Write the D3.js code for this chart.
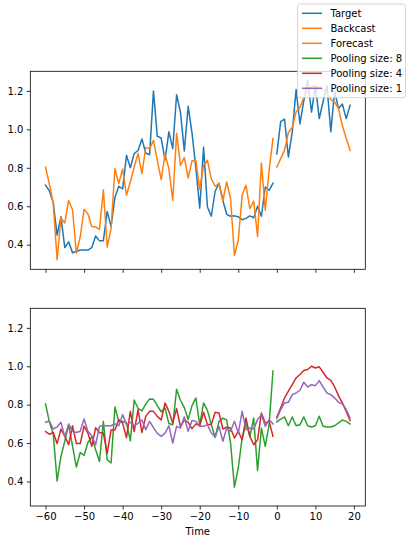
<!DOCTYPE html>
<html><head><meta charset="utf-8">
<script src="https://cdn.jsdelivr.net/npm/d3@7"></script>
<style>
html,body{margin:0;padding:0;background:#fff;}
svg{display:block;font-family:"DejaVu Sans",sans-serif;}
</style></head>
<body><svg id="c" width="410" height="544"></svg>
<script>
const backTime = d3.range(-60, 0);
const foreTime = d3.range(0, 20);
const xTicks = [-60, -50, -40, -30, -20, -10, 0, 10, 20];
const yTicks = [0.4, 0.6, 0.8, 1.0, 1.2];
const legendLabels = ["Target", "Backcast", "Forecast", "Pooling size: 8", "Pooling size: 4", "Pooling size: 1"];

const targetBack = [0.71,0.68,0.62,0.45,0.545,0.385,0.415,0.358,0.365,0.372,0.372,0.372,0.385,0.445,0.42,0.42,0.573,0.495,0.645,0.704,0.69,0.865,0.80,0.874,0.89,0.95,0.877,0.868,1.2,0.964,0.955,0.84,0.987,0.9,1.18,1.09,0.888,1.12,0.98,0.80,0.59,0.908,0.596,0.548,0.678,0.72,0.63,0.558,0.548,0.55,0.545,0.53,0.537,0.55,0.54,0.6,0.548,0.7,0.683,0.72];
const targetFore = [0.872,1.04,1.053,0.856,0.985,1.207,1.028,1.15,1.255,1.09,1.23,1.056,1.145,1.228,0.987,1.2,1.108,1.132,1.056,1.125];
const backcast = [0.804,0.714,0.617,0.322,0.539,0.513,0.63,0.582,0.357,0.44,0.585,0.56,0.495,0.492,0.48,0.686,0.388,0.483,0.796,0.718,0.794,0.657,0.726,0.804,0.874,0.77,0.905,0.9,0.943,0.839,0.738,0.87,0.796,0.63,0.98,0.813,0.853,0.747,0.837,0.837,0.688,0.813,0.839,0.744,0.704,0.718,0.63,0.726,0.64,0.345,0.423,0.657,0.709,0.587,0.627,0.443,0.825,0.579,0.787,0.952];
const forecast = [0.804,0.848,0.891,0.985,1.01,1.09,1.115,1.165,1.2,1.224,1.224,1.217,1.207,1.186,1.155,1.143,1.108,1.02,0.952,0.891];

const pool8Back = [0.804,0.71,0.648,0.402,0.53,0.61,0.695,0.585,0.475,0.551,0.535,0.603,0.633,0.565,0.504,0.713,0.513,0.496,0.788,0.713,0.713,0.705,0.612,0.824,0.78,0.767,0.803,0.83,0.828,0.795,0.763,0.783,0.702,0.695,0.88,0.823,0.785,0.723,0.795,0.835,0.693,0.809,0.77,0.696,0.63,0.713,0.73,0.72,0.6,0.37,0.47,0.626,0.704,0.635,0.73,0.457,0.678,0.583,0.696,0.975];
const pool8Fore = [0.71,0.725,0.736,0.69,0.736,0.69,0.695,0.736,0.69,0.684,0.69,0.74,0.687,0.684,0.684,0.69,0.705,0.72,0.713,0.7];
const pool4Back = [0.66,0.646,0.655,0.597,0.673,0.636,0.591,0.69,0.597,0.597,0.688,0.652,0.583,0.68,0.655,0.652,0.546,0.668,0.668,0.723,0.704,0.628,0.765,0.66,0.774,0.655,0.739,0.765,0.765,0.739,0.72,0.809,0.765,0.704,0.78,0.686,0.72,0.708,0.675,0.7,0.69,0.76,0.696,0.696,0.76,0.757,0.673,0.683,0.678,0.626,0.661,0.617,0.73,0.635,0.591,0.617,0.757,0.704,0.713,0.635];
const pool4Fore = [0.736,0.783,0.835,0.87,0.904,0.939,0.957,0.978,0.983,1.0,0.991,0.997,0.969,0.939,0.927,0.892,0.847,0.809,0.765,0.717];
const pool1Back = [0.708,0.715,0.673,0.684,0.708,0.632,0.7,0.661,0.655,0.661,0.725,0.661,0.638,0.591,0.687,0.69,0.69,0.69,0.7,0.69,0.748,0.696,0.708,0.69,0.703,0.72,0.67,0.713,0.68,0.65,0.635,0.652,0.69,0.6,0.687,0.678,0.736,0.661,0.718,0.713,0.687,0.687,0.696,0.652,0.631,0.687,0.609,0.678,0.661,0.713,0.652,0.765,0.67,0.678,0.673,0.722,0.748,0.687,0.722,0.7];
const pool1Fore = [0.727,0.774,0.809,0.812,0.852,0.861,0.875,0.917,0.892,0.904,0.899,0.925,0.892,0.861,0.852,0.835,0.812,0.805,0.774,0.73];

const C = {blue:"#1f77b4", orange:"#ff7f0e", green:"#2ca02c", red:"#d62728", purple:"#9467bd"};
const legendColors = [C.blue, C.orange, C.orange, C.green, C.red, C.purple];

const svg = d3.select("#c");
const L = 30.3, R = 365.3;
const x = d3.scaleLinear().domain([-63.95, 22.95]).range([L, R]);
const panels = [{top:71.3, bottom:269.3, labels:false}, {top:308.3, bottom:506, labels:true}];
const yDomain = [0.272, 1.302];

function drawPanel(p, series) {
  const y = d3.scaleLinear().domain(yDomain).range([p.bottom, p.top]);
  const g = svg.append("g");
  const clipId = "clip" + Math.round(p.top);
  svg.append("clipPath").attr("id", clipId).append("rect")
    .attr("x", L).attr("y", p.top).attr("width", R - L).attr("height", p.bottom - p.top);
  const line = d3.line().x(d => x(d[0])).y(d => y(d[1]));
  const lg = g.append("g").attr("clip-path", `url(#${clipId})`);
  series.forEach(s => {
    lg.append("path").attr("d", line(d3.zip(s.t, s.v)))
      .attr("fill", "none").attr("stroke", s.c).attr("stroke-width", 1.5)
      .attr("stroke-linejoin", "round").attr("stroke-linecap", "square");
  });
  const xa = d3.axisBottom(x).tickValues(xTicks).tickSize(3.5).tickPadding(3.5);
  if (!p.labels) xa.tickFormat("");
  const gx = g.append("g").attr("transform", `translate(0,${p.bottom})`).call(xa);
  const ya = d3.axisLeft(y).tickValues(yTicks).tickSize(3.5).tickPadding(3.5).tickFormat(d3.format(".1f"));
  const gy = g.append("g").attr("transform", `translate(${L},0)`).call(ya);
  [gx, gy].forEach(a => {
    a.select(".domain").remove();
    a.selectAll("line").attr("stroke", "#000").attr("stroke-width", 0.8);
    a.selectAll("text").attr("font-size", 10).attr("fill", "#000").attr("font-family", "DejaVu Sans");
  });
  g.append("rect").attr("x", L).attr("y", p.top).attr("width", R - L).attr("height", p.bottom - p.top)
    .attr("fill", "none").attr("stroke", "#000").attr("stroke-width", 0.8);
  return g;
}

drawPanel(panels[0], [
  {t: backTime, v: targetBack, c: C.blue},
  {t: foreTime, v: targetFore, c: C.blue},
  {t: backTime, v: backcast, c: C.orange},
  {t: foreTime, v: forecast, c: C.orange}
]);
drawPanel(panels[1], [
  {t: backTime, v: pool8Back, c: C.green},
  {t: foreTime, v: pool8Fore, c: C.green},
  {t: backTime, v: pool4Back, c: C.red},
  {t: foreTime, v: pool4Fore, c: C.red},
  {t: backTime, v: pool1Back, c: C.purple},
  {t: foreTime, v: pool1Fore, c: C.purple}
]);

svg.append("text").attr("x", (L + R) / 2).attr("y", 535).attr("text-anchor", "middle")
  .attr("font-size", 10).attr("fill", "#000").text("Time");

// legend
const lgd = svg.append("g");
lgd.append("rect").attr("x", 297.5).attr("y", 4).attr("width", 108).attr("height", 93.7)
  .attr("rx", 2.5).attr("fill", "#fff").attr("fill-opacity", 0.8)
  .attr("stroke", "#cccccc").attr("stroke-opacity", 0.8).attr("stroke-width", 1);
legendLabels.forEach((lab, i) => {
  const yy = 13.3 + i * 15;
  lgd.append("line").attr("x1", 302).attr("x2", 322).attr("y1", yy).attr("y2", yy)
    .attr("stroke", legendColors[i]).attr("stroke-width", 1.5);
  lgd.append("text").attr("x", 330.5).attr("y", yy).attr("dy", "0.36em")
    .attr("font-size", 10).attr("fill", "#000").text(lab);
});
</script></body></html>
